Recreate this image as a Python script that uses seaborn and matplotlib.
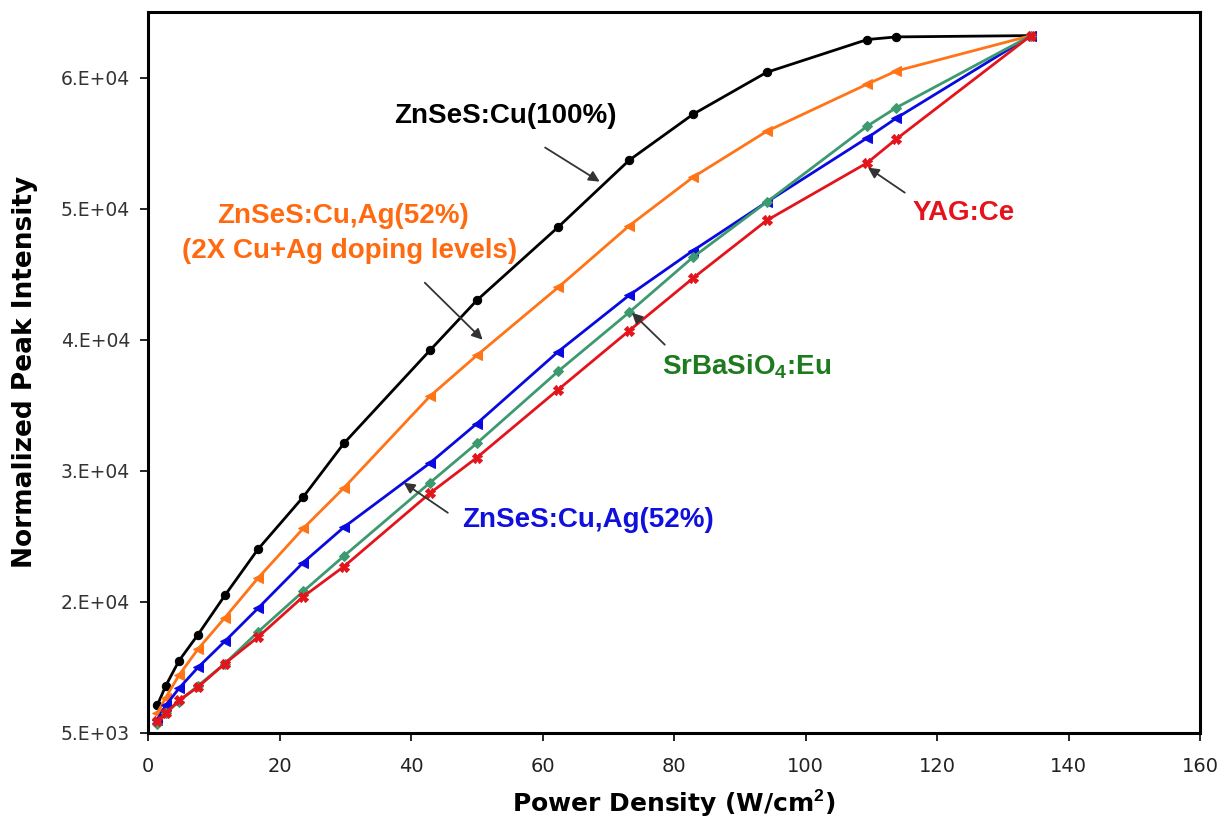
import matplotlib
matplotlib.use("Agg")
import matplotlib.pyplot as plt
import seaborn as sns
import pandas as pd

# Power density (W/cm^2) at each measurement step
power_density = [1.4, 2.7, 4.7, 7.6, 11.7, 16.7, 23.6, 29.8, 42.9, 50.0,
                 62.4, 73.2, 82.9, 94.1, 109.4, 113.8, 134.3]

# Normalized peak intensity for each phosphor
znses_cu100 = [7100, 8600, 10500, 12500, 15500, 19000, 23000, 27100, 34200, 38000,
               43600, 48700, 52200, 55400, 57900, 58100, 58200]
znses_cuag_2x = [6500, 7700, 9400, 11400, 13800, 16800, 20600, 23700, 30700, 33800,
                 39000, 43700, 47400, 50900, 54500, 55500, 58200]
znses_cuag52 = [6000, 7100, 8400, 10000, 12000, 14500, 18000, 20700, 25600, 28600,
                34100, 38400, 41800, 45500, 50400, 51900, 58200]
srbasio4_eu = [5700, 6500, 7400, 8600, 10300, 12700, 15800, 18500, 24100, 27100,
               32600, 37100, 41300, 45500, 51300, 52700, 58200]
yag_ce = [5900, 6500, 7500, 8500, 10300, 12300, 15400, 17700, 23300, 26000,
          31200, 35700, 39700, 44100, 48500, 50300, 58200]

y_ticks = [5000, 15000, 25000, 35000, 45000, 55000]
y_tick_labels = ["5.E+03", "2.E+04", "3.E+04", "4.E+04", "5.E+04", "6.E+04"]
x_ticks = [0, 20, 40, 60, 80, 100, 120, 140, 160]

sns.set_theme(style="white")
plt.rcParams["font.family"] = ["DejaVu Sans"]
plt.rcParams["mathtext.fontset"] = "custom"
plt.rcParams["mathtext.rm"] = "Liberation Sans"
plt.rcParams["mathtext.bf"] = "Liberation Sans:bold"

fig = plt.figure(figsize=(12.19, 8.25), dpi=100)
ax = fig.add_axes([148 / 1219, 1 - 733 / 825, (1200 - 148) / 1219, (733 - 12) / 825])

series = [
    (znses_cu100, "#000000", "o", 6),
    (znses_cuag_2x, "#ff7417", "<", 7.5),
    (znses_cuag52, "#0a0ae0", "<", 7.5),
    (srbasio4_eu, "#3d9970", "D", 5.5),
    (yag_ce, "#e3141c", "X", 6.5),
]
for values, color, marker, ms in series:
    df = pd.DataFrame({"x": power_density, "y": values})
    sns.lineplot(data=df, x="x", y="y", ax=ax, color=color, marker=marker,
                 markersize=ms, markeredgecolor=color, linewidth=2.0,
                 sort=False, estimator=None)

ax.set_xlim(0, 160)
ax.set_ylim(5000, 60000)
ax.set_xticks(x_ticks)
ax.set_xticklabels([str(v) for v in x_ticks], fontsize=14, color="#222222")
ax.set_yticks(y_ticks)
ax.set_yticklabels(y_tick_labels, fontsize=13.5, color="#333333")
ax.set_xlabel("")
ax.set_ylabel("")
ax.tick_params(axis="both", direction="out", length=6, width=1.2, color="black",
               left=True, bottom=True, pad=7)
ax.tick_params(axis="x", pad=11)
for sp in ax.spines.values():
    sp.set_color("black")
    sp.set_linewidth(2.2)

fig.text(674 / 1219, 1 - 803 / 825, r"Power Density (W/cm$^\mathbf{2}$)",
         ha="center", va="center", fontsize=18, fontweight="heavy", color="black")
fig.text(25 / 1219, 1 - 372 / 825, "Normalized Peak Intensity", rotation=90,
         ha="center", va="center", fontsize=19, fontweight="heavy", color="black")

arrow = dict(arrowstyle="-|>", color="#333333", lw=1.3, mutation_scale=16,
             shrinkA=0, shrinkB=0)
label_font = dict(family="Liberation Sans", fontweight="bold", fontsize=20,
                  ha="center", va="center")

ax.text(54.3, 52100, "ZnSeS:Cu(100%)", color="black", **label_font)
ax.annotate("", xy=(68.7, 47060), xytext=(60.4, 49660), arrowprops=arrow)

ax.text(29.7, 44470, "ZnSeS:Cu,Ag(52%)", color="#ff6a10", **label_font)
ax.text(30.6, 41800, "(2X Cu+Ag doping levels)", color="#ff6a10", **label_font)
ax.annotate("", xy=(50.9, 35000), xytext=(42.1, 39350), arrowprops=arrow)

ax.text(91.1, 32940, r"SrBaSiO$_\mathbf{4}$:Eu", color="#1e7a1e", **label_font)
ax.annotate("", xy=(73.6, 37060), xytext=(78.6, 34620), arrowprops=arrow)

ax.text(66.9, 21260, "ZnSeS:Cu,Ag(52%)", color="#1010dd", **label_font)
ax.annotate("", xy=(38.9, 24090), xytext=(45.6, 21800), arrowprops=arrow)

ax.text(124.0, 44700, "YAG:Ce", color="#e3141c", **label_font)
ax.annotate("", xy=(109.5, 48130), xytext=(115.1, 46220), arrowprops=arrow)

fig.savefig("out.png", dpi=100, facecolor="white")
